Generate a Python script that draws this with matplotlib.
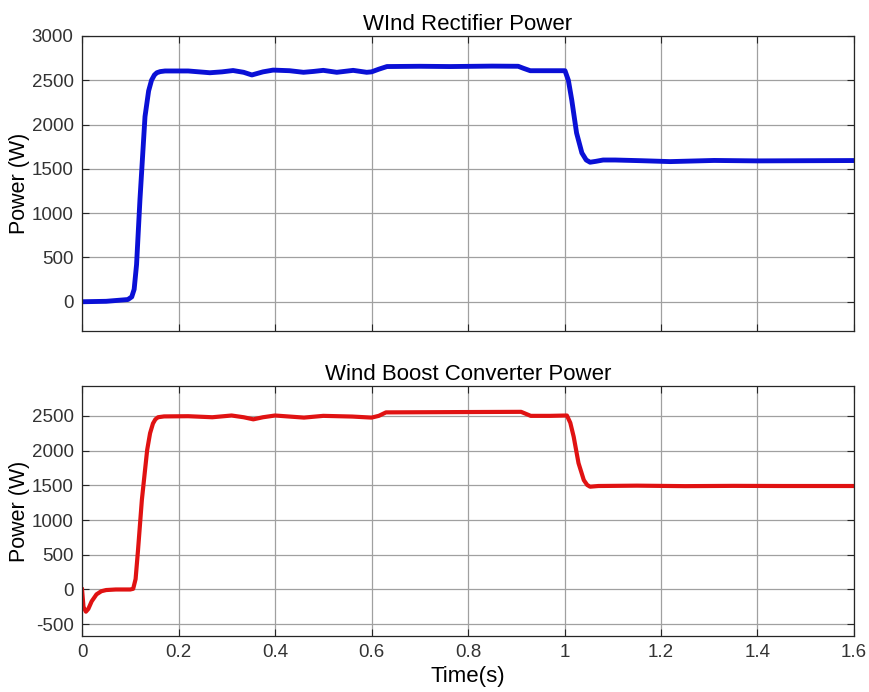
import matplotlib.pyplot as plt
import numpy as np

plt.rcParams['font.family'] = ['Liberation Sans', 'DejaVu Sans']
plt.rcParams['axes.unicode_minus'] = False

# wind rectifier power (top)
t_rect = [0.0, 0.05, 0.095, 0.103, 0.108, 0.113, 0.120, 0.1305, 0.138, 0.144, 0.150,
          0.155, 0.162, 0.172, 0.22, 0.265, 0.290, 0.313, 0.335, 0.352, 0.375, 0.396,
          0.430, 0.459, 0.480, 0.500, 0.528, 0.562, 0.590, 0.600, 0.615, 0.632, 0.70,
          0.763, 0.85, 0.904, 0.915, 0.929, 0.97, 1.001, 1.008, 1.015, 1.025, 1.036,
          1.045, 1.053, 1.065, 1.08, 1.105, 1.16, 1.219, 1.31, 1.40, 1.50, 1.60]
p_rect = [0, 5, 25, 55, 140, 420, 1150, 2090, 2380, 2500, 2560,
          2585, 2598, 2605, 2605, 2585, 2595, 2610, 2590, 2560, 2595, 2615,
          2608, 2590, 2600, 2612, 2590, 2612, 2590, 2595, 2625, 2655, 2658,
          2655, 2660, 2658, 2635, 2608, 2608, 2608, 2500, 2278, 1905, 1680,
          1600, 1575, 1585, 1600, 1600, 1592, 1582, 1595, 1590, 1592, 1594]

# wind boost converter power (bottom)
t_boost = [0.0, 0.003, 0.008, 0.013, 0.020, 0.030, 0.040, 0.050, 0.07, 0.100, 0.106,
           0.111, 0.116, 0.124, 0.135, 0.141, 0.147, 0.152, 0.1575, 0.17, 0.22, 0.27,
           0.31, 0.335, 0.355, 0.375, 0.40, 0.46, 0.50, 0.56, 0.60, 0.615, 0.63, 0.70,
           0.80, 0.91, 0.93, 0.97, 1.005, 1.012, 1.019, 1.029, 1.040, 1.047, 1.053,
           1.07, 1.15, 1.25, 1.35, 1.45, 1.60]
p_boost = [0, -250, -320, -280, -170, -70, -25, -8, 0, 0, 10,
           150, 565, 1290, 2010, 2250, 2390, 2450, 2480, 2492, 2495, 2480,
           2505, 2480, 2450, 2480, 2505, 2475, 2500, 2490, 2475, 2500, 2550, 2552,
           2555, 2558, 2500, 2500, 2505, 2400, 2200, 1820, 1575, 1505, 1480,
           1490, 1495, 1488, 1492, 1490, 1490]

xticks = [0, 0.2, 0.4, 0.6, 0.8, 1, 1.2, 1.4, 1.6]
xticklabels = ['0', '0.2', '0.4', '0.6', '0.8', '1', '1.2', '1.4', '1.6']

fig = plt.figure(figsize=(8.7, 6.92), dpi=100)
ax1 = fig.add_axes([0.0943, 0.5217, 0.8873, 0.4263])
ax2 = fig.add_axes([0.0943, 0.0809, 0.8873, 0.3613])

ax1.plot(t_rect, p_rect, color='#0a10d6', lw=3.5, solid_joinstyle='round')
ax2.plot(t_boost, p_boost, color='#e01212', lw=3.0, solid_joinstyle='round')

ax1.set_ylim(-330, 3000)
ax1.set_yticks(np.arange(0, 3001, 500))
ax2.set_ylim(-670, 2930)
ax2.set_yticks(np.arange(-500, 2501, 500))

for ax in (ax1, ax2):
    ax.set_xlim(0, 1.6)
    ax.set_xticks(xticks)
    ax.grid(True, color='#a0a0a0', lw=0.9)
    ax.set_axisbelow(True)
    ax.tick_params(direction='in', top=True, right=True, labelsize=13.5,
                   colors='#262626', labelcolor='#333333', length=5, pad=6)
    for s in ax.spines.values():
        s.set_color('#262626')
        s.set_linewidth(0.9)
    ax.set_ylabel('Power (W)', fontsize=15.5, labelpad=1)

ax1.set_xticklabels([])
ax2.set_xticklabels(xticklabels)

ax1.set_title('WInd Rectifier Power', fontsize=16, pad=4)
ax2.set_title('Wind Boost Converter Power', fontsize=16, pad=4)
ax2.set_xlabel('Time(s)', fontsize=16, labelpad=3)

fig.savefig('out.png', dpi=100)
